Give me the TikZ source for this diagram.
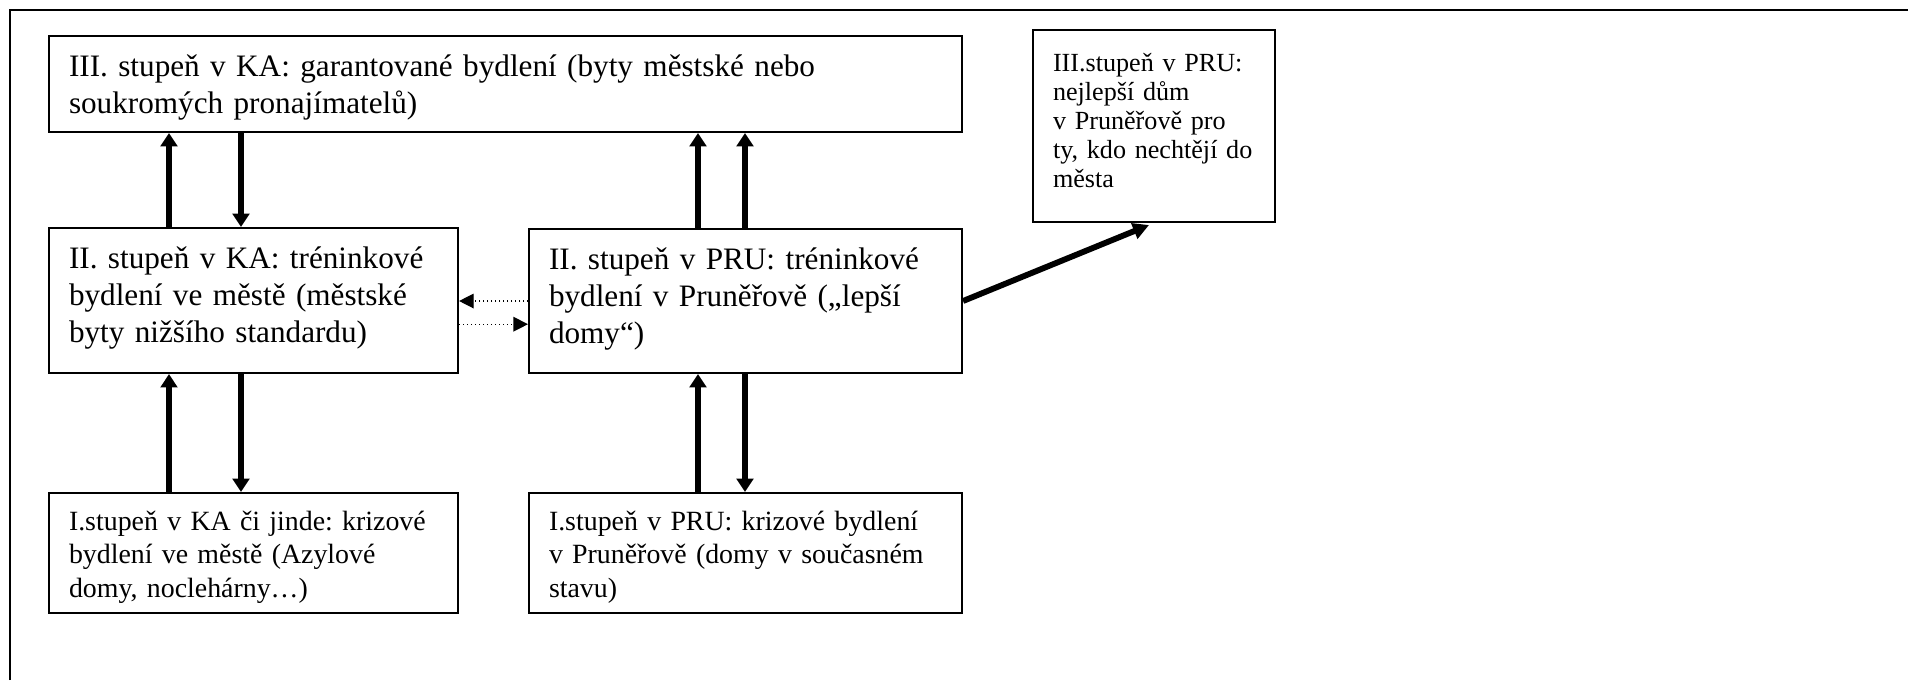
\documentclass[tikz,border=0pt]{standalone}
\usepackage{fontspec}
\setmainfont{Liberation Serif}
\usetikzlibrary{arrows.meta}
\frenchspacing
\hyphenpenalty=10000
\exhyphenpenalty=10000

\tikzset{
	stage/.style={draw, line width=0.75pt, anchor=north west, align=left, inner xsep=7.5pt, inner ysep=0pt},
	bigstage/.style={font=\fontsize{11.7}{13.8}\selectfont, text height=15.2pt},
	smallstage/.style={font=\fontsize{10.45}{12.65}\selectfont, text height=13.9pt},
	tinystage/.style={font=\fontsize{9.8}{10.9}\selectfont, text height=15.4pt},
	flow/.style={line width=2pt, -{Triangle[length=5pt,width=6.2pt]}},
	dotflow/.style={densely dotted, line width=0.5pt, -{Triangle[length=5.5pt,width=5.5pt]}},
}

\begin{document}
\begin{tikzpicture}[x=0.375pt, y=-0.375pt]
		%%%%% START %%%%%
		\useasboundingbox (0, 0) rectangle (1908, 680);
		\draw[line width=1.1pt] (10, 680) -- (10, 10) -- (1908, 10);
		
		%%%%% stages %%%%%
		\node[stage, bigstage, text width=327.4pt, text depth=20.8pt] (kaIII) at (48, 35)
			{III. stupeň v KA: garantované bydlení (byty městské nebo\\soukromých pronajímatelů)};
		\node[stage, bigstage, text width=138.4pt, text depth=39.2pt] (kaII) at (48, 227)
			{II. stupeň v KA: tréninkové\\bydlení ve městě (městské\\byty nižšího standardu)};
		\node[stage, bigstage, text width=147.4pt, text depth=38.8pt] (pruII) at (528, 228)
			{II. stupeň v PRU: tréninkové\\bydlení v Pruněřově („lepší\\domy“)};
		\node[stage, tinystage, text width=75.75pt, text depth=56.6pt] (pruIII) at (1032, 29)
			{III.stupeň v PRU:\\nejlepší dům\\v Pruněřově pro\\ty, kdo nechtějí do\\města};
		\node[stage, smallstage, text width=138.4pt, text depth=31.1pt] (kaI) at (48, 492)
			{I.stupeň v KA či jinde: krizové\\bydlení ve městě (Azylové\\domy, noclehárny…)};
		\node[stage, smallstage, text width=147.4pt, text depth=31.1pt] (pruI) at (528, 492)
			{I.stupeň v PRU: krizové bydlení\\v Pruněřově (domy v současném\\stavu)};
		
		%%%%% arrows %%%%%
		\coordinate (kaUp) at (169, 0);
		\coordinate (kaDown) at (241, 0);
		\coordinate (pruUp) at (698, 0);
		\coordinate (pruMix) at (745, 0);
		
		\draw[flow] (kaUp |- kaII.north) -- (kaUp |- kaIII.south);
		\draw[flow] (kaDown |- kaIII.south) -- (kaDown |- kaII.north);
		\draw[flow] (kaUp |- kaI.north) -- (kaUp |- kaII.south);
		\draw[flow] (kaDown |- kaII.south) -- (kaDown |- kaI.north);
		
		\draw[flow] (pruUp |- pruII.north) -- (pruUp |- kaIII.south);
		\draw[flow] (pruMix |- pruII.north) -- (pruMix |- kaIII.south);
		\draw[flow] (pruUp |- pruI.north) -- (pruUp |- pruII.south);
		\draw[flow] (pruMix |- pruII.south) -- (pruMix |- pruI.north);
		
		\draw[dotflow] (pruII.west) -- (pruII.west -| kaII.east);
		\draw[dotflow] ([yshift=-8.7pt]pruII.west -| kaII.east) -- ([yshift=-8.7pt]pruII.west);
		
		\draw[flow, line width=2.2pt, -{Triangle[length=6pt,width=6pt]}, shorten >=2pt] (pruII.east) -- (pruIII.south);
		%%%%% END %%%%%
\end{tikzpicture}
\end{document}
